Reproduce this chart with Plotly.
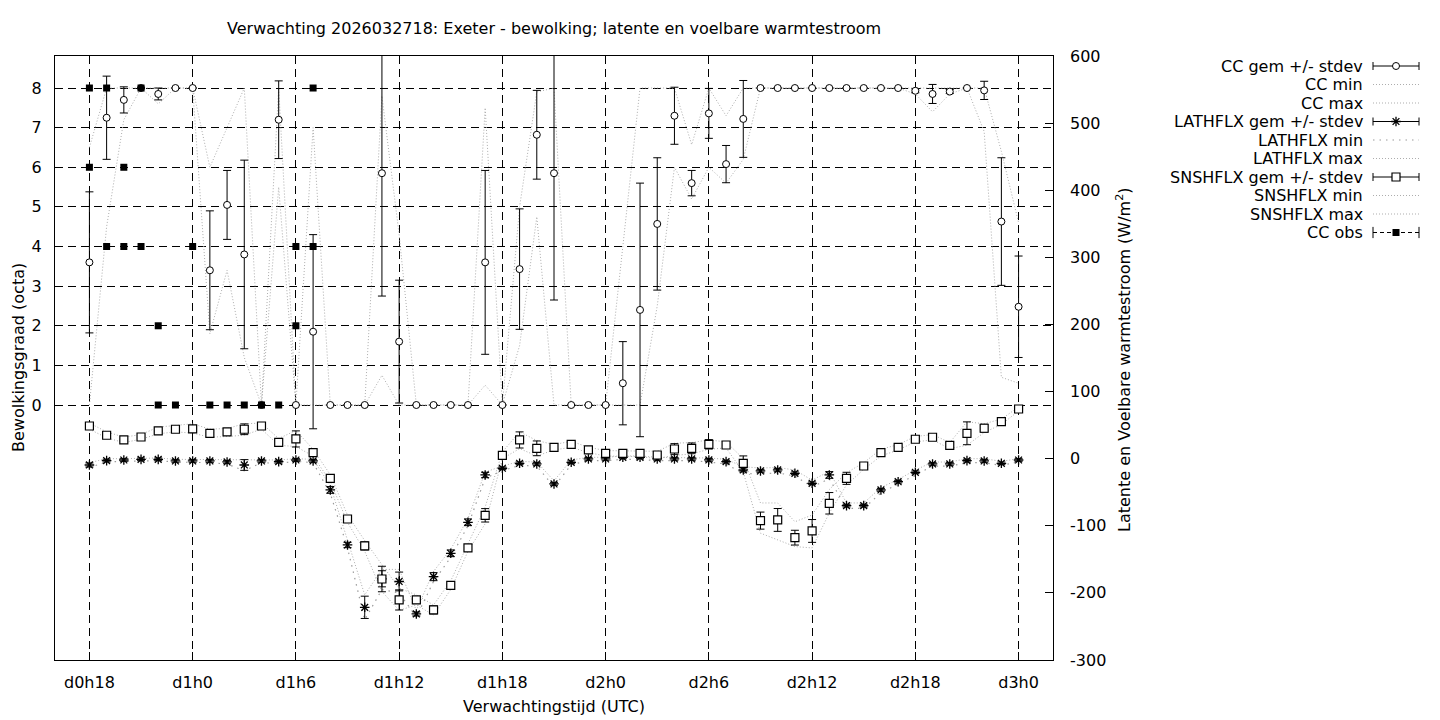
import plotly.graph_objects as go

# ---------------- data ----------------
hours = list(range(55))  # hours after d0h18
tick_hours = [0, 6, 12, 18, 24, 30, 36, 42, 48, 54]
tick_labels = ["d0h18", "d1h0", "d1h6", "d1h12", "d1h18", "d2h0", "d2h6", "d2h12", "d2h18", "d3h0"]
cc_ticks = [0, 1, 2, 3, 4, 5, 6, 7, 8]
flux_ticks = [-300, -200, -100, 0, 100, 200, 300, 400, 500, 600]
flux_tick_labels = ["-300", "-200", "-100", "0", "100", "200", "300", "400", "500", "600"]

cc_mean = [3.6, 7.25, 7.7, 8.0, 7.85, 8.0, 8.0, 3.4, 5.05, 3.8,
           0.0, 7.2, 0.0, 1.85, 0.0, 0.0, 0.0, 5.85, 1.6, 0.0,
           0.0, 0.0, 0.0, 3.6, 0.0, 3.43, 6.82, 5.85, 0.0, 0.0,
           0.0, 0.55, 2.4, 4.57, 7.3, 5.6, 7.36, 6.08, 7.22, 8.0,
           8.0, 8.0, 8.0, 8.0, 8.0, 8.0, 8.0, 8.0, 7.93, 7.85,
           7.91, 8.0, 7.94, 4.63, 2.48]
cc_std = [1.78, 1.05, 0.33, 0.0, 0.15, 0.0, 0.0, 1.5, 0.87, 2.38,
          0.0, 0.98, 0.0, 2.45, 0.0, 0.0, 0.0, 3.1, 1.55, 0.0,
          0.0, 0.0, 0.0, 2.32, 0.0, 1.52, 1.12, 3.2, 0.0, 0.0,
          0.0, 1.05, 3.2, 1.67, 0.72, 0.32, 0.63, 0.47, 0.97, 0.0,
          0.0, 0.0, 0.0, 0.0, 0.0, 0.0, 0.0, 0.0, 0.05, 0.24,
          0.05, 0.0, 0.23, 1.61, 1.28]
cc_min = [0.0, 4.5, 7.2, 8.0, 7.6, 8.0, 8.0, 1.8, 3.4, 1.2,
          0.0, 5.5, 0.0, 0.0, 0.0, 0.0, 0.0, 0.75, 0.0, 0.0,
          0.0, 0.0, 0.0, 0.5, 0.0, 1.5, 4.75, 0.0, 0.0, 0.0,
          0.0, 0.0, 0.0, 2.5, 6.0, 5.2, 6.0, 5.6, 6.2, 8.0,
          8.0, 8.0, 8.0, 8.0, 8.0, 8.0, 8.0, 8.0, 7.85, 7.4,
          7.85, 8.0, 6.9, 0.7, 0.55]
cc_max = [6.5, 8.0, 8.0, 8.0, 8.0, 8.0, 8.0, 6.0, 7.0, 8.0,
          0.0, 8.0, 0.0, 7.0, 0.0, 0.0, 0.0, 7.8, 4.3, 0.0,
          0.0, 0.0, 0.0, 7.5, 0.0, 5.0, 7.9, 8.0, 0.0, 0.0,
          0.0, 4.0, 8.0, 8.0, 8.0, 6.57, 8.0, 7.3, 8.0, 8.0,
          8.0, 8.0, 8.0, 8.0, 8.0, 8.0, 8.0, 8.0, 8.0, 8.0,
          8.0, 8.0, 8.0, 6.4, 4.6]

lat_mean = [-9.4, -2.9, -2.0, -1.0, -1.0, -3.4, -3.4, -3.4, -4.9, -9.4,
            -3.4, -4.4, -2.0, -3.4, -46.6, -128.6, -221.5, -179.0, -183.0, -231.4,
            -175.8, -141.0, -94.8, -24.3, -14.3, -6.9, -7.9, -37.7, -5.4, -0.4,
            -0.4, 2.0, 2.0, -0.4, -0.4, -0.4, -1.9, -4.4, -16.8, -18.3,
            -16.8, -21.8, -36.7, -24.3, -70.0, -70.0, -46.6, -34.3, -20.3, -7.9,
            -7.9, -2.9, -3.4, -6.9, -2.0]
lat_std = [3, 2, 2, 2, 2, 2, 2, 2, 2, 8,
           2, 2, 2, 2, 5, 4, 16.6, 12, 14, 3,
           6, 5, 5, 4, 2, 2, 2, 2, 2, 2,
           2, 2, 2, 2, 2, 2, 2, 2, 3, 2,
           2, 2, 2, 5, 2, 2, 2, 2, 2, 2,
           2, 2, 2, 2, 2]
lat_min = [-13, -5, -4, -3, -3, -5, -5, -6, -8, -18,
           -6, -7, -4, -6, -52, -133, -240, -195, -200, -236,
           -183, -147, -100, -29, -18, -10, -11, -42, -9, -3,
           -3, -1, -1, -3, -3, -3, -5, -8, -22, -23,
           -21, -26, -42, -30, -74, -74, -51, -38, -24, -11,
           -11, -6, -6, -10, -5]
lat_max = [-6, 0, 0, 1, 1, -1, -1, -1, -2, -2,
           -1, -2, 0, -1, -40, -123, -203, -165, -165, -226,
           -168, -135, -89, -20, -11, -4, -5, -33, -2, 2,
           2, 4, 4, 2, 2, 2, 1, -1, -12, -14,
           -13, -17, -32, -19, -66, -66, -43, -31, -17, -5,
           -5, 0, 0, -4, 0]

sns_mean = [48.7, 34.9, 27.9, 32.3, 41.3, 43.8, 44.3, 37.8, 39.8, 43.8,
            48.7, 24.4, 29.4, 9.0, -29.3, -89.9, -130.0, -179.3, -210.5, -210.5,
            -225.4, -188.7, -133.0, -84.4, 5.0, 27.9, 15.4, 16.9, 21.4, 13.0,
            8.0, 8.0, 8.0, 5.5, 14.4, 15.4, 21.4, 20.4, -6.9, -92.3,
            -91.3, -117.7, -107.7, -66.5, -29.3, -10.9, 9.0, 16.9, 28.9, 31.9,
            19.9, 37.8, 45.3, 55.2, 74.0]
sns_std = [4, 1, 1, 1, 1, 1, 5, 1, 5, 8,
           1, 3, 12, 4, 1, 1, 6, 19, 15, 5,
           6, 1, 4, 10, 1, 12, 11, 1, 1, 1,
           1, 1, 3, 5, 8, 8, 7, 1, 11, 12.7,
           17, 11, 17, 16, 9, 1, 4, 1, 1, 1,
           4, 17, 6, 4, 1]
sns_min = [44, 31, 24, 29, 37, 40, 38, 32, 33, 35,
           44, 20, 18, 4, -34, -95, -138, -198, -226, -218,
           -233, -195, -138, -97, 0, 15, 4, 13, 17, 9,
           4, 4, 3, 0, 5, 7, 14, 16, -20, -111,
           -121, -131, -133, -81, -39, -16, 4, 13, 25, 28,
           15, 20, 39, 51, 71]
sns_max = [53, 40, 32, 36, 47, 50, 52, 44, 45, 52,
           53, 30, 42, 14, -24, -84, -122, -158, -193, -203,
           -218, -182, -127, -72, 10, 40, 27, 21, 26, 17,
           12, 12, 12, 11, 23, 24, 28, 25, 0, -66,
           -66, -94, -84, -46, -21, -6, 14, 21, 33, 36,
           24, 55, 52, 59, 77]

obs_hours = [0, 0, 1, 1, 2, 2, 3, 3, 4, 4, 5, 6, 7, 8, 9, 10, 11, 12, 12, 13, 13]
obs_cc = [8, 6, 8, 4, 6, 4, 8, 4, 2, 0, 0, 4, 0, 0, 0, 0, 0, 4, 2, 8, 4]

legend_labels = ["CC gem +/- stdev", "CC min", "CC max",
                 "LATHFLX gem +/- stdev", "LATHFLX min", "LATHFLX max",
                 "SNSHFLX gem +/- stdev", "SNSHFLX min", "SNSHFLX max", "CC obs"]

title_text = "Verwachting 2026032718: Exeter - bewolking; latente en voelbare warmtestroom"
xtitle = "Verwachtingstijd (UTC)"
ytitle = "Bewolkingsgraad (octa)"
y2title = "Latente en Voelbare warmtestroom (W/m<sup>2</sup>)"

# ---------------- styles ----------------
FONT = "DejaVu Sans"
W, H = 1440, 720
PX_L, PX_R, PX_T, PX_B = 55, 1053, 56, 660
GREY_DOT = dict(color="#adadad", width=1, dash="1px,2px")
GREY_DOT2 = dict(color="#9a9a9a", width=1.2, dash="1.5px,5px")
ERR = dict(type="data", color="black", thickness=1, width=4)

circle_m = dict(symbol="circle", size=7, color="white", line=dict(color="black", width=1))
ast_m = dict(symbol="asterisk-open", size=8, color="black", line=dict(color="black", width=1.3))
sq_m = dict(symbol="square", size=8, color="white", line=dict(color="black", width=1.2))
obs_m = dict(symbol="square", size=7, color="black", line=dict(color="black", width=0))

fig = go.Figure()

# min / max lines
fig.add_trace(go.Scatter(x=hours, y=cc_min, mode="lines", line=GREY_DOT, yaxis="y"))
fig.add_trace(go.Scatter(x=hours, y=cc_max, mode="lines", line=GREY_DOT, yaxis="y"))
fig.add_trace(go.Scatter(x=hours, y=lat_min, mode="lines", line=GREY_DOT2, yaxis="y2"))
fig.add_trace(go.Scatter(x=hours, y=lat_max, mode="lines", line=GREY_DOT, yaxis="y2"))
fig.add_trace(go.Scatter(x=hours, y=sns_min, mode="lines", line=GREY_DOT, yaxis="y2"))
fig.add_trace(go.Scatter(x=hours, y=sns_max, mode="lines", line=GREY_DOT, yaxis="y2"))

# means with stdev
fig.add_trace(go.Scatter(x=hours, y=lat_mean, mode="markers", marker=ast_m,
                         error_y=dict(ERR, array=lat_std), yaxis="y2"))
fig.add_trace(go.Scatter(x=hours, y=sns_mean, mode="markers", marker=sq_m,
                         error_y=dict(ERR, array=sns_std), yaxis="y2"))
fig.add_trace(go.Scatter(x=hours, y=cc_mean, mode="markers", marker=circle_m,
                         error_y=dict(ERR, array=cc_std), yaxis="y"))
fig.add_trace(go.Scatter(x=obs_hours, y=obs_cc, mode="markers", marker=obs_m, yaxis="y"))

# ---------------- custom legend (text left, sample right, like gnuplot) ----------------
rows = list(range(len(legend_labels)))
s_left, s_mid, s_right, t_right = 173, 196, 219, 165
legend_markers = {0: circle_m, 3: ast_m, 6: sq_m}
for r in rows:
    if r in legend_markers:
        fig.add_trace(go.Scatter(x=[s_mid], y=[r], mode="markers", marker=legend_markers[r],
                                 error_x=dict(type="data", array=[s_right - s_mid], color="black",
                                              thickness=1, width=4),
                                 xaxis="x3", yaxis="y3"))
    elif r == 9:
        fig.add_trace(go.Scatter(x=[s_left, s_right], y=[r, r], mode="lines+markers",
                                 line=dict(color="black", width=1, dash="4px,3px"),
                                 marker=dict(symbol="line-ns-open", size=8,
                                             line=dict(color="black", width=1)),
                                 xaxis="x3", yaxis="y3"))
        fig.add_trace(go.Scatter(x=[s_mid], y=[r], mode="markers", marker=obs_m,
                                 xaxis="x3", yaxis="y3"))
    else:
        style = GREY_DOT2 if r == 4 else GREY_DOT
        fig.add_trace(go.Scatter(x=[s_left, s_right], y=[r, r], mode="lines", line=style,
                                 xaxis="x3", yaxis="y3"))

annotations = []
for r, lab in zip(rows, legend_labels):
    annotations.append(dict(text=lab, x=t_right, y=r, xref="x3", yref="y3",
                            xanchor="right", yanchor="middle", showarrow=False,
                            font=dict(family=FONT, size=16, color="black")))

xc = (PX_L + PX_R) / 2 / W
annotations += [
    dict(text=title_text, x=xc, y=1 - 29 / H, xref="paper", yref="paper",
         xanchor="center", yanchor="middle", showarrow=False,
         font=dict(family=FONT, size=16, color="black")),
    dict(text=xtitle, x=xc, y=1 - 706 / H, xref="paper", yref="paper",
         xanchor="center", yanchor="middle", showarrow=False,
         font=dict(family=FONT, size=16, color="black")),
    dict(text=ytitle, x=18 / W, y=1 - 358 / H, xref="paper", yref="paper", textangle=-90,
         xanchor="center", yanchor="middle", showarrow=False,
         font=dict(family=FONT, size=16, color="black")),
    dict(text=y2title, x=1123 / W, y=1 - 360 / H, xref="paper", yref="paper", textangle=-90,
         xanchor="center", yanchor="middle", showarrow=False,
         font=dict(family=FONT, size=16, color="black")),
]

grid = dict(showgrid=True, gridcolor="black", gridwidth=1, griddash="8px,5px")
tickfont = dict(family=FONT, size=16, color="black")

fig.update_layout(
    width=W, height=H, margin=dict(l=0, r=0, t=0, b=0, autoexpand=False),
    paper_bgcolor="white", plot_bgcolor="white", showlegend=False,
    font=dict(family=FONT, size=16, color="black"),
    xaxis=dict(domain=[PX_L / W, PX_R / W], range=[-2, 56], tickvals=tick_hours,
               ticktext=tick_labels, ticks="inside", ticklen=8, tickcolor="black",
               showline=True, linecolor="black", linewidth=1, mirror="ticks",
               zeroline=False, tickfont=tickfont, ticklabelstandoff=8, automargin=False, **grid),
    yaxis=dict(domain=[1 - PX_B / H, 1 - PX_T / H], range=[-6.435, 8.808], tickvals=cc_ticks,
               ticks="inside", ticklen=8, tickcolor="black", showline=True, linecolor="black",
               linewidth=1, mirror=True, zeroline=False, tickfont=tickfont,
               ticklabelstandoff=9, automargin=False, **grid),
    yaxis2=dict(overlaying="y", side="right", anchor="x", range=[-300, 600], tickvals=flux_ticks,
                ticktext=flux_tick_labels,
                ticks="inside", ticklen=8, tickcolor="black", showgrid=False, zeroline=False,
                showline=False, tickfont=tickfont, ticklabelstandoff=16, automargin=False),
    xaxis3=dict(domain=[1200 / W, 1.0], range=[0, 240], anchor="y3", visible=False,
                automargin=False),
    yaxis3=dict(domain=[1 - 241.75 / H, 1 - 56.75 / H], range=[9.5, -0.5], anchor="x3",
                visible=False, automargin=False),
    annotations=annotations,
)

page_fix = (
    "document.documentElement.style.margin='0';"
    "document.body.style.margin='0';"
    "document.body.style.overflow='hidden';"
    "var gd=document.getElementById('{plot_id}');"
    "gd.style.position='absolute';gd.style.left='0px';gd.style.top='0px';"
)

fig.write_html("out.html", post_script=page_fix, config={"displayModeBar": False})
